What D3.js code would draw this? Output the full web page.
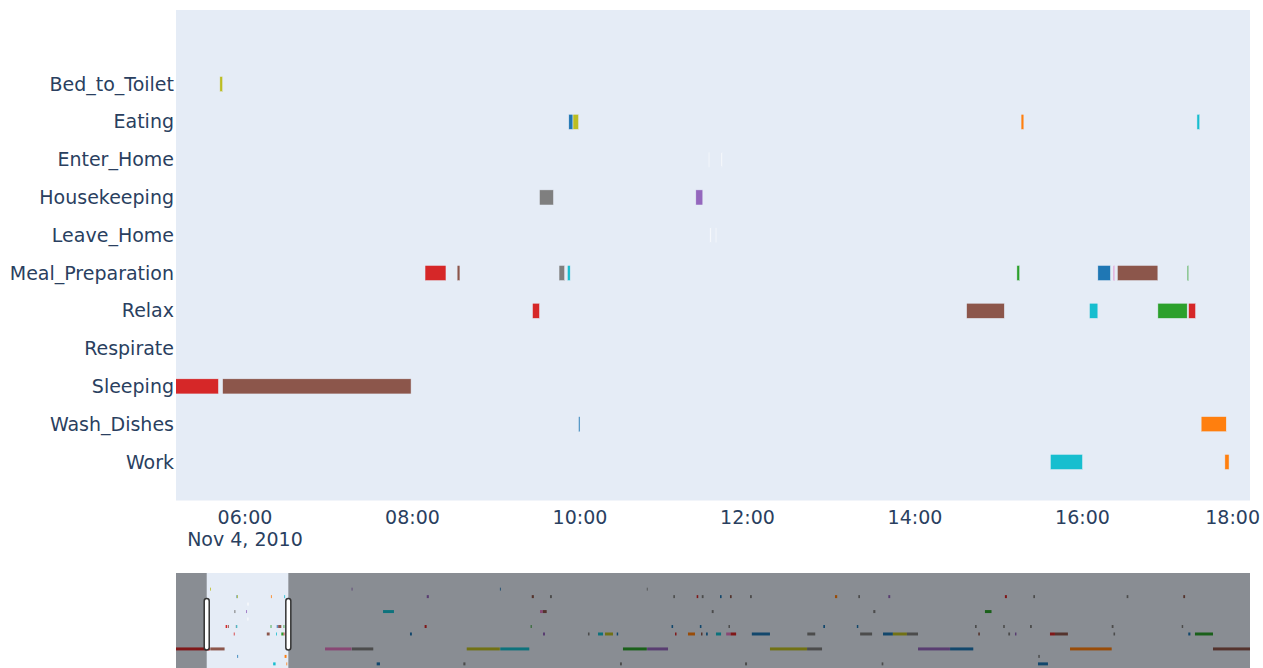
<!DOCTYPE html>
<html><head><meta charset="utf-8">
<script src="https://cdn.jsdelivr.net/npm/d3@7"></script>
<style>
html,body{margin:0;padding:0;background:#fff;}
svg{display:block;font-family:"DejaVu Sans",Verdana,sans-serif;}
</style>
</head><body>
<svg id="chart" width="1263" height="668"></svg>
<script>
// ---------------- data ----------------
const activities = ["Bed_to_Toilet","Eating","Enter_Home","Housekeeping","Leave_Home",
  "Meal_Preparation","Relax","Respirate","Sleeping","Wash_Dishes","Work"];
const palette = d3.schemeCategory10;        // colour group -> colour, -1 = faint
const viewRange = ["2010-11-04 05:10:36", "2010-11-04 18:00:00"];
const fullRange = ["2010-11-04 00:21:00", "2010-11-11 01:07:00"];
const tickEveryHours = 2;
const firstTickDateLabel = "Nov 4, 2010";

// [activity, start, end, colour group]
const eventsDay1 = [
  ["Sleeping","2010-11-04 00:21","2010-11-04 05:41",3],
  ["Bed_to_Toilet","2010-11-04 05:42","2010-11-04 05:44",8],
  ["Sleeping","2010-11-04 05:44","2010-11-04 07:59",5],
  ["Meal_Preparation","2010-11-04 08:09","2010-11-04 08:24",3],
  ["Meal_Preparation","2010-11-04 08:32","2010-11-04 08:34",5],
  ["Relax","2010-11-04 09:26","2010-11-04 09:31",3],
  ["Housekeeping","2010-11-04 09:31","2010-11-04 09:41",7],
  ["Meal_Preparation","2010-11-04 09:45","2010-11-04 09:49",7],
  ["Meal_Preparation","2010-11-04 09:51","2010-11-04 09:53",9],
  ["Eating","2010-11-04 09:52","2010-11-04 09:55",0],
  ["Eating","2010-11-04 09:55","2010-11-04 09:59",8],
  ["Wash_Dishes","2010-11-04 09:59","2010-11-04 10:00",0],
  ["Housekeeping","2010-11-04 11:23","2010-11-04 11:28",4],
  ["Enter_Home","2010-11-04 11:32","2010-11-04 11:33",-1],
  ["Leave_Home","2010-11-04 11:33","2010-11-04 11:34",-1],
  ["Leave_Home","2010-11-04 11:37","2010-11-04 11:38",-1],
  ["Enter_Home","2010-11-04 11:41","2010-11-04 11:42",-1],
  ["Relax","2010-11-04 14:37","2010-11-04 15:04",5],
  ["Meal_Preparation","2010-11-04 15:13","2010-11-04 15:15",2],
  ["Eating","2010-11-04 15:16","2010-11-04 15:18",1],
  ["Work","2010-11-04 15:37","2010-11-04 16:00",9],
  ["Relax","2010-11-04 16:05","2010-11-04 16:11",9],
  ["Meal_Preparation","2010-11-04 16:11","2010-11-04 16:20",0],
  ["Meal_Preparation","2010-11-04 16:22","2010-11-04 16:23",6],
  ["Meal_Preparation","2010-11-04 16:25","2010-11-04 16:54",5],
  ["Relax","2010-11-04 16:54","2010-11-04 17:15",2],
  ["Meal_Preparation","2010-11-04 17:15","2010-11-04 17:16",2],
  ["Relax","2010-11-04 17:16","2010-11-04 17:21",3],
  ["Eating","2010-11-04 17:22","2010-11-04 17:24",9],
  ["Wash_Dishes","2010-11-04 17:25","2010-11-04 17:43",1],
  ["Work","2010-11-04 17:42","2010-11-04 17:45",1]
];
const eventsLater = [
  ["Sleeping","2010-11-04 23:46","2010-11-05 03:56",6],
  ["Bed_to_Toilet","2010-11-05 03:57","2010-11-05 04:00",4],
  ["Sleeping","2010-11-05 03:59","2010-11-05 07:21",7],
  ["Work","2010-11-05 07:53","2010-11-05 08:24",0],
  ["Housekeeping","2010-11-05 08:53","2010-11-05 10:36",9],
  ["Relax","2010-11-05 13:07","2010-11-05 13:25",0],
  ["Meal_Preparation","2010-11-05 15:25","2010-11-05 15:44",3],
  ["Eating","2010-11-05 15:45","2010-11-05 16:05",4],
  ["Work","2010-11-05 21:30","2010-11-05 21:50",7],
  ["Sleeping","2010-11-05 22:02","2010-11-06 03:14",8],
  ["Bed_to_Toilet","2010-11-06 03:15","2010-11-06 03:18",0],
  ["Sleeping","2010-11-06 03:18","2010-11-06 07:52",9],
  ["Meal_Preparation","2010-11-06 08:05","2010-11-06 08:14",2],
  ["Eating","2010-11-06 08:15","2010-11-06 08:35",5],
  ["Housekeeping","2010-11-06 09:33","2010-11-06 10:00",6],
  ["Housekeeping","2010-11-06 10:00","2010-11-06 10:36",5],
  ["Relax","2010-11-06 10:01","2010-11-06 10:20",4],
  ["Eating","2010-11-06 11:07","2010-11-06 11:25",7],
  ["Relax","2010-11-06 17:05","2010-11-06 17:20",7],
  ["Relax","2010-11-06 18:40","2010-11-06 19:27",9],
  ["Relax","2010-11-06 19:46","2010-11-06 21:01",8],
  ["Relax","2010-11-06 21:36","2010-11-06 21:50",0],
  ["Work","2010-11-06 22:07","2010-11-06 22:25",7],
  ["Sleeping","2010-11-06 22:35","2010-11-07 02:20",2],
  ["Bed_to_Toilet","2010-11-07 02:20","2010-11-07 02:23",7],
  ["Sleeping","2010-11-07 02:23","2010-11-07 05:40",4],
  ["Meal_Preparation","2010-11-07 06:13","2010-11-07 06:28",0],
  ["Eating","2010-11-07 06:30","2010-11-07 06:45",7],
  ["Relax","2010-11-07 06:46","2010-11-07 07:00",3],
  ["Relax","2010-11-07 08:48","2010-11-07 09:54",1],
  ["Eating","2010-11-07 10:10","2010-11-07 10:25",3],
  ["Meal_Preparation","2010-11-07 10:40","2010-11-07 10:55",0],
  ["Relax","2010-11-07 10:51","2010-11-07 11:05",5],
  ["Eating","2010-11-07 10:58","2010-11-07 11:15",7],
  ["Relax","2010-11-07 11:38","2010-11-07 11:55",0],
  ["Housekeeping","2010-11-07 12:32","2010-11-07 12:50",7],
  ["Relax","2010-11-07 13:12","2010-11-07 14:00",9],
  ["Eating","2010-11-07 13:50","2010-11-07 14:05",0],
  ["Relax","2010-11-07 14:48","2010-11-07 15:30",6],
  ["Relax","2010-11-07 15:30","2010-11-07 16:22",3],
  ["Meal_Preparation","2010-11-07 15:10","2010-11-07 15:24",7],
  ["Eating","2010-11-07 15:24","2010-11-07 15:40",5],
  ["Work","2010-11-07 17:46","2010-11-07 18:05",7],
  ["Eating","2010-11-07 18:33","2010-11-07 18:50",7],
  ["Relax","2010-11-07 18:50","2010-11-07 21:41",0],
  ["Sleeping","2010-11-07 21:41","2010-11-08 03:30",8],
  ["Sleeping","2010-11-08 03:31","2010-11-08 05:52",7],
  ["Relax","2010-11-08 03:33","2010-11-08 04:48",7],
  ["Meal_Preparation","2010-11-08 06:04","2010-11-08 06:20",0],
  ["Eating","2010-11-08 07:54","2010-11-08 08:15",1],
  ["Meal_Preparation","2010-11-08 11:20","2010-11-08 11:34",0],
  ["Eating","2010-11-08 11:34","2010-11-08 11:50",7],
  ["Relax","2010-11-08 11:51","2010-11-08 13:44",7],
  ["Housekeeping","2010-11-08 13:55","2010-11-08 14:15",7],
  ["Work","2010-11-08 15:14","2010-11-08 15:30",7],
  ["Relax","2010-11-08 15:27","2010-11-08 17:00",0],
  ["Eating","2010-11-08 16:17","2010-11-08 16:35",4],
  ["Relax","2010-11-08 17:00","2010-11-08 19:12",8],
  ["Relax","2010-11-08 19:12","2010-11-08 20:57",7],
  ["Sleeping","2010-11-08 20:57","2010-11-09 01:58",4],
  ["Sleeping","2010-11-09 01:59","2010-11-09 05:38",0],
  ["Meal_Preparation","2010-11-09 05:54","2010-11-09 06:10",7],
  ["Relax","2010-11-09 06:25","2010-11-09 06:40",5],
  ["Housekeeping","2010-11-09 07:28","2010-11-09 08:30",2],
  ["Meal_Preparation","2010-11-09 10:20","2010-11-09 10:35",7],
  ["Eating","2010-11-09 10:36","2010-11-09 10:55",3],
  ["Relax","2010-11-09 11:08","2010-11-09 11:25",7],
  ["Relax","2010-11-09 12:11","2010-11-09 12:25",4],
  ["Meal_Preparation","2010-11-09 14:33","2010-11-09 14:50",7],
  ["Eating","2010-11-09 15:04","2010-11-09 15:20",7],
  ["Work","2010-11-09 15:48","2010-11-09 17:22",0],
  ["Wash_Dishes","2010-11-09 15:51","2010-11-09 16:05",7],
  ["Relax","2010-11-09 17:41","2010-11-09 18:28",3],
  ["Relax","2010-11-09 18:28","2010-11-09 20:30",5],
  ["Sleeping","2010-11-09 20:50","2010-11-10 03:23",1],
  ["Meal_Preparation","2010-11-10 03:23","2010-11-10 03:40",7],
  ["Relax","2010-11-10 03:40","2010-11-10 03:55",7],
  ["Eating","2010-11-10 05:44","2010-11-10 06:00",7],
  ["Meal_Preparation","2010-11-10 14:23","2010-11-10 14:37",7],
  ["Eating","2010-11-10 14:38","2010-11-10 14:55",5],
  ["Relax","2010-11-10 15:25","2010-11-10 15:45",0],
  ["Relax","2010-11-10 16:28","2010-11-10 19:18",2],
  ["Sleeping","2010-11-10 19:18","2010-11-11 01:07",5]
];

// ---------------- render ----------------
const parse = s => (s.length > 16 ? d3.timeParse("%Y-%m-%d %H:%M:%S") : d3.timeParse("%Y-%m-%d %H:%M"))(s);
const events = eventsDay1.concat(eventsLater).map(d => ({act: d[0], s: parse(d[1]), e: parse(d[2]), g: d[3]}));
const colorOf = g => g < 0 ? "#f7f9fc" : palette[g];

const svg = d3.select("#chart");
const W = 1263;
const plot = {x0: 176, x1: 1250, y0: 10, y1: 500.5};
const slider = {y0: 573, y1: 672};
const idxDomain = [-1.96, 11.02];
const BG = "#E5ECF6", TXT = "#2a3f5f", FONT = 19;

const x = d3.scaleTime().domain(viewRange.map(parse)).range([plot.x0, plot.x1]);
const yIdx = d3.scaleLinear().domain(idxDomain).range([plot.y0, plot.y1]);
const y = d3.scalePoint().domain(activities).range([yIdx(0), yIdx(activities.length - 1)]);
const step = y.step(), barH = step * 0.4;

// plot bg
svg.append("rect").attr("x", plot.x0).attr("y", plot.y0)
  .attr("width", plot.x1 - plot.x0).attr("height", plot.y1 - plot.y0).attr("fill", BG);

svg.append("clipPath").attr("id", "clipMain").append("rect")
  .attr("x", plot.x0).attr("y", plot.y0).attr("width", plot.x1 - plot.x0).attr("height", plot.y1 - plot.y0);

svg.append("g").attr("clip-path", "url(#clipMain)")
  .selectAll("rect").data(events).join("rect")
  .attr("x", d => x(d.s)).attr("width", d => Math.max(0.8, x(d.e) - x(d.s)))
  .attr("y", d => y(d.act) - barH / 2).attr("height", barH)
  .attr("fill", d => colorOf(d.g))
  .attr("stroke", BG).attr("stroke-width", 0.5);

// y axis
const yAxis = svg.append("g").attr("transform", `translate(${plot.x0 - 2},0)`)
  .call(d3.axisLeft(y).tickSize(0).tickPadding(0));
yAxis.select(".domain").remove();
yAxis.selectAll("text").attr("font-size", FONT).attr("fill", TXT)
  .attr("font-family", '"DejaVu Sans",Verdana,sans-serif');

// x axis
const ticks = x.ticks(d3.timeHour.every(tickEveryHours));
const fmt = d3.timeFormat("%H:%M");
const xg = svg.append("g");
ticks.forEach((t, i) => {
  const tx = x(t);
  const g = xg.append("g");
  const t1 = g.append("text").attr("x", tx).attr("y", 523.5).attr("text-anchor", "middle")
    .attr("font-size", FONT).attr("fill", TXT).text(fmt(t));
  if (i === 0) {
    g.append("text").attr("x", tx).attr("y", 545.5).attr("text-anchor", "middle")
      .attr("font-size", FONT).attr("fill", TXT).text(firstTickDateLabel);
  }
  const bb = t1.node().getBBox();
  if (bb.x + bb.width > W - 2) t1.attr("x", tx - (bb.x + bb.width - (W - 3)));
});

// ---------------- range slider ----------------
const xs = d3.scaleTime().domain(fullRange.map(parse)).range([plot.x0, plot.x1]);
const ys = d3.scaleLinear().domain(idxDomain).range([slider.y0 + 1.5, slider.y1 - 0.5]);
const sStep = ys(1) - ys(0), sBarH = sStep * 0.4;

svg.append("rect").attr("x", plot.x0).attr("y", slider.y0)
  .attr("width", plot.x1 - plot.x0).attr("height", slider.y1 - slider.y0).attr("fill", BG);
svg.append("clipPath").attr("id", "clipSlider").append("rect")
  .attr("x", plot.x0).attr("y", slider.y0).attr("width", plot.x1 - plot.x0).attr("height", slider.y1 - slider.y0);
svg.append("g").attr("clip-path", "url(#clipSlider)")
  .selectAll("rect").data(events).join("rect")
  .attr("x", d => xs(d.s)).attr("width", d => Math.max(0.8, xs(d.e) - xs(d.s)))
  .attr("y", d => ys(activities.indexOf(d.act)) - sBarH / 2).attr("height", sBarH)
  .attr("fill", d => colorOf(d.g));

const [v0, v1] = x.domain();
svg.append("rect").attr("x", plot.x0).attr("y", slider.y0)
  .attr("width", xs(v0) - plot.x0).attr("height", slider.y1 - slider.y0).attr("fill", "rgba(0,0,0,0.4)");
svg.append("rect").attr("x", xs(v1)).attr("y", slider.y0)
  .attr("width", plot.x1 - xs(v1)).attr("height", slider.y1 - slider.y0).attr("fill", "rgba(0,0,0,0.4)");

[xs(v0), xs(v1)].forEach(hx => {
  svg.append("rect").attr("x", hx - 2.5).attr("y", 598.5).attr("width", 5).attr("height", 51.5)
    .attr("rx", 2.5).attr("fill", "#fff").attr("stroke", "#333").attr("stroke-width", 1.5);
});
</script>
</body></html>
